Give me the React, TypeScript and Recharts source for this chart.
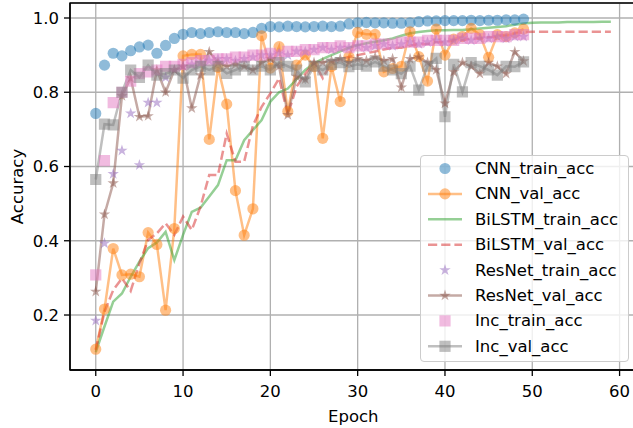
import { LineChart, Line, XAxis, YAxis, CartesianGrid, Legend, ReferenceArea, Label } from 'recharts';

const FONT = '"DejaVu Sans", sans-serif';

const epochs = Array.from({ length: 60 }, (_, i) => i);

const cnnTrain = [
  0.743, 0.873, 0.905, 0.898, 0.912, 0.922, 0.927, 0.905, 0.926, 0.945,
  0.956, 0.961, 0.958, 0.961, 0.963, 0.961, 0.961, 0.958, 0.961, 0.972,
  0.977, 0.976, 0.978, 0.977, 0.976, 0.977, 0.978, 0.977, 0.978, 0.984,
  0.987, 0.988, 0.987, 0.987, 0.986, 0.986, 0.987, 0.99, 0.992, 0.992,
  0.993, 0.993, 0.993, 0.994, 0.993, 0.994, 0.994, 0.995, 0.995, 0.997,
];
const cnnVal = [
  0.108, 0.216, 0.379, 0.308, 0.31, 0.303, 0.422, 0.39, 0.213, 0.433,
  0.898, 0.902, 0.902, 0.673, 0.867, 0.768, 0.535, 0.415, 0.486, 0.952,
  0.865, 0.923, 0.748, 0.873, 0.9, 0.869, 0.676, 0.869, 0.775, 0.896,
  0.961, 0.956, 0.956, 0.855, 0.864, 0.87, 0.963, 0.896, 0.83, 0.97,
  0.9, 0.943, 0.95, 0.972, 0.955, 0.894, 0.955, 0.95, 0.96, 0.97,
];
const bilstmTrain = [
  0.1, 0.169, 0.236, 0.258, 0.303, 0.344, 0.38, 0.395, 0.424, 0.348,
  0.416, 0.478, 0.489, 0.519, 0.55, 0.617, 0.617, 0.671, 0.698, 0.725,
  0.775, 0.8, 0.81, 0.835, 0.86, 0.878, 0.89, 0.9, 0.91, 0.92,
  0.927, 0.932, 0.936, 0.94, 0.945, 0.952, 0.959, 0.962, 0.965, 0.967,
  0.967, 0.968, 0.968, 0.97, 0.972, 0.974, 0.976, 0.978, 0.982, 0.985,
  0.987, 0.988, 0.988, 0.988, 0.989, 0.989, 0.989, 0.989, 0.99, 0.99,
];
const bilstmVal = [
  0.105, 0.209, 0.267, 0.299, 0.265, 0.339, 0.402, 0.42, 0.447, 0.416,
  0.465, 0.429, 0.492, 0.577, 0.577, 0.689, 0.613, 0.613, 0.71, 0.761,
  0.797, 0.838, 0.739, 0.815, 0.85, 0.882, 0.838, 0.88, 0.89, 0.895,
  0.9, 0.905, 0.91, 0.915, 0.92, 0.92, 0.925, 0.93, 0.93, 0.935,
  0.935, 0.94, 0.94, 0.945, 0.945, 0.948, 0.95, 0.955, 0.958, 0.962,
  0.963, 0.963, 0.963, 0.963, 0.963, 0.963, 0.963, 0.963, 0.963, 0.963,
];
const resnetTrain = [
  0.185, 0.393, 0.58, 0.643, 0.743, 0.604, 0.772, 0.772, 0.84, 0.86,
  0.87, 0.875, 0.88, 0.885, 0.89, 0.89, 0.885, 0.89, 0.895, 0.9,
  0.9, 0.905, 0.9, 0.91, 0.91, 0.915, 0.92, 0.915, 0.92, 0.92,
  0.925, 0.92, 0.925, 0.93, 0.925, 0.93, 0.935, 0.93, 0.935, 0.94,
  0.935, 0.94, 0.945, 0.94, 0.945, 0.945, 0.95, 0.945, 0.95, 0.95,
];
const resnetVal = [
  0.263, 0.471, 0.555, 0.79, 0.838, 0.734, 0.736, 0.86, 0.8, 0.86,
  0.87, 0.757, 0.846, 0.909, 0.88, 0.87, 0.875, 0.87, 0.86, 0.88,
  0.89, 0.87, 0.739, 0.842, 0.835, 0.88, 0.88, 0.885, 0.89, 0.88,
  0.89, 0.885, 0.895, 0.885, 0.89, 0.813, 0.89, 0.895, 0.88, 0.86,
  0.77, 0.855, 0.88, 0.87, 0.85, 0.88, 0.87, 0.85, 0.909, 0.884,
];
const incTrain = [
  0.308, 0.616, 0.772, 0.8, 0.83, 0.85, 0.855, 0.86, 0.87, 0.87,
  0.875, 0.88, 0.885, 0.885, 0.89, 0.89, 0.895, 0.895, 0.9, 0.9,
  0.905, 0.9, 0.91, 0.91, 0.915, 0.915, 0.92, 0.92, 0.925, 0.92,
  0.925, 0.925, 0.93, 0.93, 0.93, 0.935, 0.935, 0.935, 0.94, 0.94,
  0.94, 0.94, 0.945, 0.945, 0.945, 0.95, 0.95, 0.95, 0.955, 0.955,
];
const incVal = [
  0.565, 0.714, 0.712, 0.8, 0.86, 0.84, 0.873, 0.846, 0.85, 0.86,
  0.838, 0.86, 0.87, 0.86, 0.87, 0.851, 0.86, 0.87, 0.86, 0.87,
  0.86, 0.88, 0.87, 0.86, 0.828, 0.87, 0.86, 0.875, 0.88, 0.869,
  0.875, 0.87, 0.882, 0.87, 0.86, 0.85, 0.87, 0.806, 0.87, 0.891,
  0.734, 0.875, 0.801, 0.88, 0.87, 0.86, 0.846, 0.87, 0.869, 0.882,
];

const xTicks = [0, 10, 20, 30, 40, 50, 60];
const yTicks = [0.2, 0.4, 0.6, 0.8, 1.0];

const data = epochs.map((epoch, i) => ({
  epoch,
  cnnTrain: cnnTrain[i],
  cnnVal: cnnVal[i],
  bilstmTrain: bilstmTrain[i],
  bilstmVal: bilstmVal[i],
  resnetTrain: resnetTrain[i],
  resnetVal: resnetVal[i],
  incTrain: incTrain[i],
  incVal: incVal[i],
}));

const C = {
  blue: '#1f77b4',
  orange: '#ff7f0e',
  green: '#2ca02c',
  red: '#d62728',
  purple: '#9467bd',
  brown: '#8c564b',
  pink: '#e377c2',
  gray: '#7f7f7f',
};

type Shape = 'circle' | 'star' | 'square' | 'none';

function markerPath(shape: Shape, cx: number, cy: number) {
  if (shape === 'circle') {
    const r = 5.6;
    return `M${cx - r},${cy}a${r},${r} 0 1,0 ${2 * r},0a${r},${r} 0 1,0 ${-2 * r},0Z`;
  }
  if (shape === 'square') {
    const h = 5.6;
    return `M${cx - h},${cy - h}h${2 * h}v${2 * h}h${-2 * h}Z`;
  }
  // 5-pointed star, matplotlib style
  const R = 6;
  const r = R * 0.381966;
  let d = '';
  for (let k = 0; k < 10; k++) {
    const rad = k % 2 === 0 ? R : r;
    const a = -Math.PI / 2 + (k * Math.PI) / 5;
    d += `${k === 0 ? 'M' : 'L'}${cx + rad * Math.cos(a)},${cy + rad * Math.sin(a)}`;
  }
  return d + 'Z';
}

const makeDot = (shape: Shape, color: string) => (props: any) => {
  const { cx, cy, index, value } = props;
  if (value == null || cx == null || cy == null || isNaN(cy)) return <g key={`d-${index}`} />;
  return <path key={`d-${index}`} d={markerPath(shape, cx, cy)} fill={color} fillOpacity={0.5} />;
};

const series = [
  { key: 'cnnTrain', name: 'CNN_train_acc', color: C.blue, marker: 'circle' as Shape, line: false, dash: '' },
  { key: 'cnnVal', name: 'CNN_val_acc', color: C.orange, marker: 'circle' as Shape, line: true, dash: '' },
  { key: 'bilstmTrain', name: 'BiLSTM_train_acc', color: C.green, marker: 'none' as Shape, line: true, dash: '' },
  { key: 'bilstmVal', name: 'BiLSTM_val_acc', color: C.red, marker: 'none' as Shape, line: true, dash: '9.2 4' },
  { key: 'resnetTrain', name: 'ResNet_train_acc', color: C.purple, marker: 'star' as Shape, line: false, dash: '' },
  { key: 'resnetVal', name: 'ResNet_val_acc', color: C.brown, marker: 'star' as Shape, line: true, dash: '' },
  { key: 'incTrain', name: 'Inc_train_acc', color: C.pink, marker: 'square' as Shape, line: false, dash: '' },
  { key: 'incVal', name: 'Inc_val_acc', color: C.gray, marker: 'square' as Shape, line: true, dash: '' },
];

function renderLegend() {
  return (
    <div
      style={{
        width: 209,
        height: 207,
        boxSizing: 'border-box',
        border: '1px solid #cccccc',
        borderRadius: 4,
        background: 'rgba(255,255,255,0.8)',
      }}
    >
      <svg width={207} height={205} style={{ display: 'block' }}>
        {series.map((s, i) => {
          const y = 12.5 + i * 25.4;
          return (
            <g key={s.key}>
              {s.line && (
                <line x1={7} x2={41} y1={y} y2={y} stroke={s.color} strokeOpacity={0.5} strokeWidth={2.5} strokeDasharray={s.dash || undefined} />
              )}
              {s.marker !== 'none' && (
                <path d={markerPath(s.marker, 24, y)} fill={s.color} fillOpacity={0.5} />
              )}
              <text x={54} y={y} dominantBaseline="central" fontSize={16.5} fontFamily={FONT} fill="#000">
                {s.name}
              </text>
            </g>
          );
        })}
      </svg>
    </div>
  );
}

const renderYLabel = () => (
  <text x={17} y={186.5} transform="rotate(-90 17 186.5)" textAnchor="middle" dominantBaseline="central" fontSize={16.5} fontFamily={FONT} fill="#000">
    Accuracy
  </text>
);

export default function App() {
  return (
    <div style={{ position: 'absolute', left: 0, top: 0, background: '#fff' }}>
      <LineChart
        width={640}
        height={428}
        data={data}
        margin={{ top: 3, right: 3.4, left: 0, bottom: 0 }}
        style={{ fontFamily: FONT }}
      >
        <CartesianGrid stroke="#b0b0b0" strokeWidth={1.3} />
        <XAxis
          dataKey="epoch"
          type="number"
          domain={[-2.95, 61.95]}
          ticks={xTicks}
          allowDataOverflow
          height={58}
          tickSize={6}
          tickMargin={9}
          stroke="#000"
          strokeWidth={1.3}
          tick={{ fontSize: 16.5, fill: '#000', fontFamily: FONT }}
        >
          <Label value="Epoch" position="insideBottom" offset={6} fontSize={16.5} fill="#000" fontFamily={FONT} />
        </XAxis>
        <YAxis
          type="number"
          domain={[0.0519, 1.0404]}
          ticks={yTicks}
          allowDataOverflow
          width={70}
          tickSize={6}
          tickMargin={5}
          stroke="#000"
          strokeWidth={1.3}
          tickFormatter={(v: number) => v.toFixed(1)}
          tick={{ fontSize: 16.5, fill: '#000', fontFamily: FONT }}
        >
          <Label content={renderYLabel} />
        </YAxis>
        {series.map((s) => (
          <Line
            key={s.key}
            type="linear"
            dataKey={s.key}
            name={s.name}
            stroke={s.line ? s.color : 'none'}
            strokeOpacity={0.5}
            strokeWidth={2.5}
            strokeDasharray={s.dash || undefined}
            dot={s.marker === 'none' ? false : makeDot(s.marker, s.color)}
            activeDot={false}
            isAnimationActive={false}
            legendType="none"
          />
        ))}
        <ReferenceArea
          x1={-2.95}
          x2={61.95}
          y1={0.0519}
          y2={1.0404}
          fill="none"
          stroke="#000"
          strokeWidth={1.3}
          ifOverflow="visible"
        />
        <Legend
          layout="horizontal"
          verticalAlign="middle"
          align="center"
          content={renderLegend}
          wrapperStyle={{ left: 420, top: 155, width: 209, height: 207 }}
        />
      </LineChart>
    </div>
  );
}
